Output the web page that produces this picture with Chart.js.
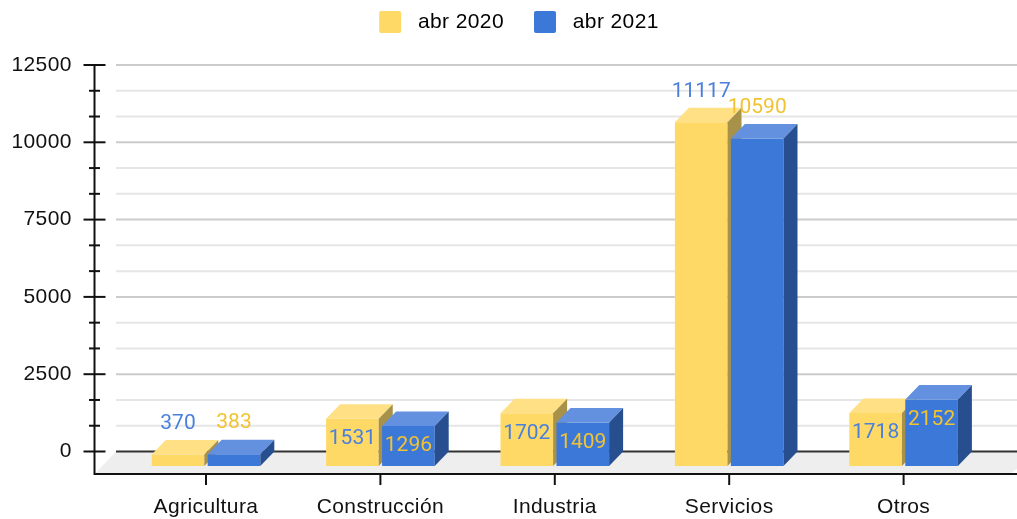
<!DOCTYPE html>
<html lang="es">
<head>
<meta charset="utf-8">
<title>abr 2020 / abr 2021</title>
<script src="https://cdn.jsdelivr.net/npm/chart.js@4"></script>
<style>
    html, body { margin: 0; padding: 0; background: #fff; }
    #wrap { width: 1017px; height: 519px; }
</style>
</head>
<body>
<div id="wrap"><canvas id="chart" width="1017" height="519"></canvas></div>
<script>
const categories = ["Agricultura", "Construcción", "Industria", "Servicios", "Otros"];
const seriesNames = ["abr 2020", "abr 2021"];
const abr2020 = [370, 1531, 1702, 11117, 1718];
const abr2021 = [383, 1296, 1409, 10590, 2152];
const yMajorTicks = [0, 2500, 5000, 7500, 10000, 12500];

// front, top and side colours of each series, plus the label colour (labels are crossed over)
const faceColors = ["#ffd966", "#3c78d8"];
const topColors = ["#ffe085", "#6391e0"];
const sideColors = ["#a8924a", "#274f8f"];
const labelColors = ["#4a80dc", "#f1c232"];

const values = [abr2020, abr2021];
const barDepth = 14;
const barDrop = 14.5;

// ticks every third of a major step
function buildYTicks(scale) {
    const ticks = [];
    yMajorTicks.forEach((major, i) => {
        ticks.push({ value: major });
        if (i < yMajorTicks.length - 1) {
            const step = (yMajorTicks[i + 1] - major) / 3;
            ticks.push({ value: major + step });
            ticks.push({ value: major + 2 * step });
        }
    });
    scale.ticks = ticks;
}

function line(ctx, x1, y1, x2, y2, color) {
    ctx.strokeStyle = color;
    ctx.lineWidth = 2;
    ctx.beginPath();
    ctx.moveTo(x1, y1);
    ctx.lineTo(x2, y2);
    ctx.stroke();
}

function poly(ctx, points, color) {
    ctx.fillStyle = color;
    ctx.beginPath();
    points.forEach((p, i) => i ? ctx.lineTo(p[0], p[1]) : ctx.moveTo(p[0], p[1]));
    ctx.closePath();
    ctx.fill();
}

const fakeDepth = {
    id: "fakeDepth",
    beforeInit(chart) {
        const fit = chart.legend.fit;
        chart.legend.fit = function () {
            fit.call(this);
            this.height = 65;
        };
    },
    afterLayout(chart) {
        chart.legend.top = -19;
        chart.legend.left += 20;
        chart.legend.right += 20;
    },
    beforeDraw(chart) {
        chart.ctx.letterSpacing = "0.4px";
    },
    // floor, grid and axes
    beforeDatasetsDraw(chart) {
        const ctx = chart.ctx;
        const y = chart.scales.y;
        const x = chart.scales.x;
        const axisX = 94.5;
        const axisY = 474;
        const zero = y.getPixelForValue(0);

        ctx.save();
        poly(ctx, [[axisX, axisY], [116, zero], [1040, zero], [1010, axisY]], "#eeeeee");
        y.ticks.forEach((tick, i) => {
            const py = y.getPixelForValue(tick.value);
            const major = i % 3 === 0;
            const color = tick.value === 0 ? "#333333" : (major ? "#cccccc" : "#e6e6e6");
            line(ctx, 116, py, 1017, py, color);
            const half = major ? 11 : 5.5;
            line(ctx, axisX - half, py, axisX + half, py, "#111111");
        });
        line(ctx, axisX, y.getPixelForValue(12500) - 1, axisX, axisY + 1, "#111111");
        line(ctx, axisX, axisY, 1017, axisY, "#111111");
        x.ticks.forEach((tick, i) => {
            const px = x.getPixelForTick(i);
            line(ctx, px, axisY, px, axisY + 11, "#111111");
        });
        ctx.restore();
    },
    // the library paints the last dataset first, here yellow has to go under blue
    beforeDatasetDraw() {
        return false;
    },
    afterDatasetsDraw(chart) {
        const ctx = chart.ctx;
        ctx.save();
        ctx.translate(0, barDrop);
        values.forEach((series, i) => {
            chart.getDatasetMeta(i).data.forEach(bar => {
                const left = bar.x - bar.width / 2;
                const right = bar.x + bar.width / 2;
                bar.draw(ctx);
                poly(ctx, [[left, bar.y], [left + barDepth, bar.y - barDrop], [right + barDepth, bar.y - barDrop], [right, bar.y]], topColors[i]);
                poly(ctx, [[right, bar.y], [right + barDepth, bar.y - barDrop], [right + barDepth, bar.base - barDrop], [right, bar.base]], sideColors[i]);
            });
        });
        ctx.restore();

        ctx.save();
        ctx.letterSpacing = "0px";
        ctx.font = "21px Roboto";
        ctx.textAlign = "center";
        ctx.textBaseline = "middle";
        values.forEach((series, i) => {
            ctx.fillStyle = labelColors[i];
            chart.getDatasetMeta(i).data.forEach((bar, j) => {
                const outside = series[j] < 1000 || series[j] > 5000;
                const front = bar.y + barDrop;
                ctx.fillText(String(series[j]), bar.x, outside ? front - 31 : front + 20);
            });
        });
        ctx.restore();
    }
};

new Chart(document.getElementById("chart"), {
    type: "bar",
    data: {
        labels: categories,
        datasets: values.map((series, i) => ({
            label: seriesNames[i],
            data: series,
            backgroundColor: faceColors[i],
            borderWidth: 0,
            categoryPercentage: 0.642,
            barPercentage: 0.94
        }))
    },
    options: {
        responsive: false,
        animation: false,
        layout: { padding: { left: 0, right: 26.2, top: 0, bottom: 0 } },
        plugins: {
            tooltip: { enabled: false },
            legend: {
                position: "top",
                labels: {
                    boxWidth: 22,
                    boxHeight: 22,
                    padding: 30,
                    color: "#222222",
                    font: { family: "Liberation Sans", size: 21 },
                    useBorderRadius: true,
                    borderRadius: 2,
                    generateLabels(chart) {
                        // native gap is too small, a leading space widens it
                        return chart.data.datasets.map((ds, i) => ({
                            text: " " + ds.label,
                            fillStyle: ds.backgroundColor,
                            strokeStyle: ds.backgroundColor,
                            lineWidth: 0,
                            datasetIndex: i,
                            borderRadius: 2
                        }));
                    }
                }
            }
        },
        scales: {
            x: {
                grid: { display: false, drawTicks: false },
                border: { display: false },
                afterFit(scale) { scale.height = 67.5; },
                ticks: {
                    padding: 43,
                    maxRotation: 0,
                    color: "#111111",
                    font: { family: "Liberation Sans", size: 21 }
                }
            },
            y: {
                min: 0,
                max: 12500,
                afterBuildTicks: buildYTicks,
                afterFit(scale) { scale.width = 118.8; },
                grid: { display: false, drawTicks: false },
                border: { display: false },
                ticks: {
                    autoSkip: false,
                    padding: 47,
                    color: "#111111",
                    font: { family: "Liberation Sans", size: 21 },
                    callback: (value, index) => index % 3 === 0 ? String(Math.round(value)) : ""
                }
            }
        }
    },
    plugins: [fakeDepth]
});
</script>
</body>
</html>
